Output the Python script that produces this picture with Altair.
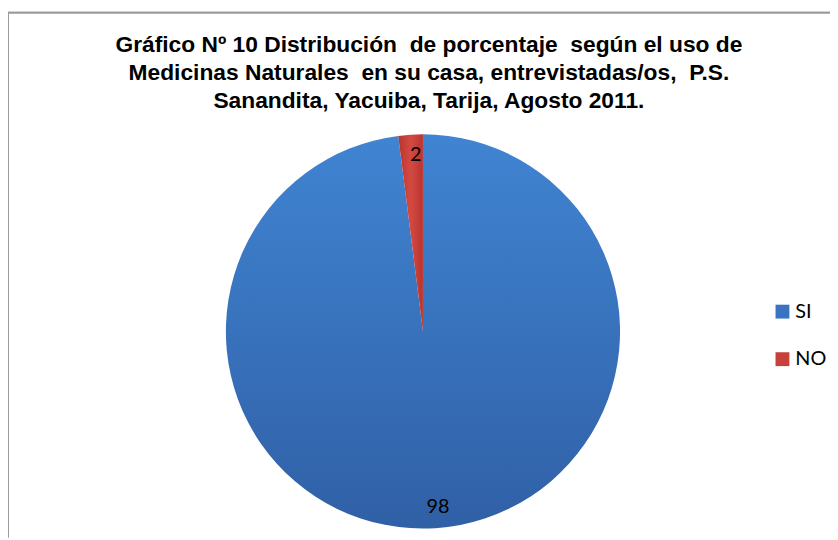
import altair as alt
import pandas as pd

categories = ["SI", "NO"]
values = [98, 2]
order_idx = [0, 1]
NB = "\u00a0"
title_lines = [
    f"Gráfico Nº 10 Distribución {NB}de porcentaje {NB}según el uso de",
    f"Medicinas Naturales {NB}en su casa, entrevistadas/os, {NB}P.S.",
    "Sanandita, Yacuiba, Tarija, Agosto 2011.",
]

df = pd.DataFrame({"cat": categories, "val": values, "ord": order_idx})

W, H = 830, 530
CX, CY, R = 419, 322, 199

grad_si = {"gradient": "linear", "x1": 0, "y1": 0, "x2": 0, "y2": 1,
           "stops": [{"offset": 0, "color": "#4084D2"}, {"offset": 1, "color": "#3060A6"}]}
grad_no = {"gradient": "linear", "x1": 0, "y1": 0, "x2": 1, "y2": 0,
           "stops": [{"offset": 0, "color": "#B8342F"}, {"offset": 0.5, "color": "#D44A42"},
                     {"offset": 1, "color": "#B8342F"}]}

base = alt.Chart(df).encode(
    theta=alt.Theta("val:Q", stack=True),
    order=alt.Order("ord:Q"),
    x=alt.value(CX),
    y=alt.value(CY),
)

pie = base.mark_arc(outerRadius=R).encode(
    fill={"condition": {"test": "datum.cat === 'SI'", "value": grad_si}, "value": grad_no},
)

legend_layer = base.mark_arc(outerRadius=0, innerRadius=0).encode(
    color=alt.Color(
        "cat:N",
        scale=alt.Scale(domain=categories, range=["#3A74C0", "#C8403A"]),
        legend=alt.Legend(
            title=None, orient="none", legendX=772, legendY=292,
            symbolType="square", symbolSize=196, symbolStrokeWidth=0, symbolOpacity=1,
            labelFont="Lato", labelFontSize=20, labelColor="#000000",
            rowPadding=28, padding=0, labelOffset=3,
        ),
    ),
)

labels = base.mark_text(radius=178, font="Lato", fontSize=20, color="#000000", dx=4).encode(
    text=alt.Text("val:Q")
)

frame_top = alt.Chart(df).mark_rule(color="#9a9a9a", strokeWidth=1.8).encode(
    x=alt.value(0), x2=alt.value(W), y=alt.value(0)
)
frame_left = alt.Chart(df).mark_rule(color="#9a9a9a", strokeWidth=1.8).encode(
    x=alt.value(0), y=alt.value(0), y2=alt.value(H)
)

chart = alt.layer(frame_top, frame_left, pie, legend_layer, labels).properties(
    width=W,
    height=H,
    autosize=alt.AutoSizeParams(type="none"),
    padding={"left": 0, "top": 2, "right": 0, "bottom": 0},
    title=alt.TitleParams(
        text=title_lines,
        font="Liberation Sans",
        fontSize=23,
        fontWeight="bold",
        color="#000000",
        anchor="middle",
        lineHeight=28,
        baseline="top",
        offset=-102,
        dx=10,
    ),
).configure_view(stroke=None)

chart.save("out.html", embed_options={"renderer": "svg", "actions": False})
